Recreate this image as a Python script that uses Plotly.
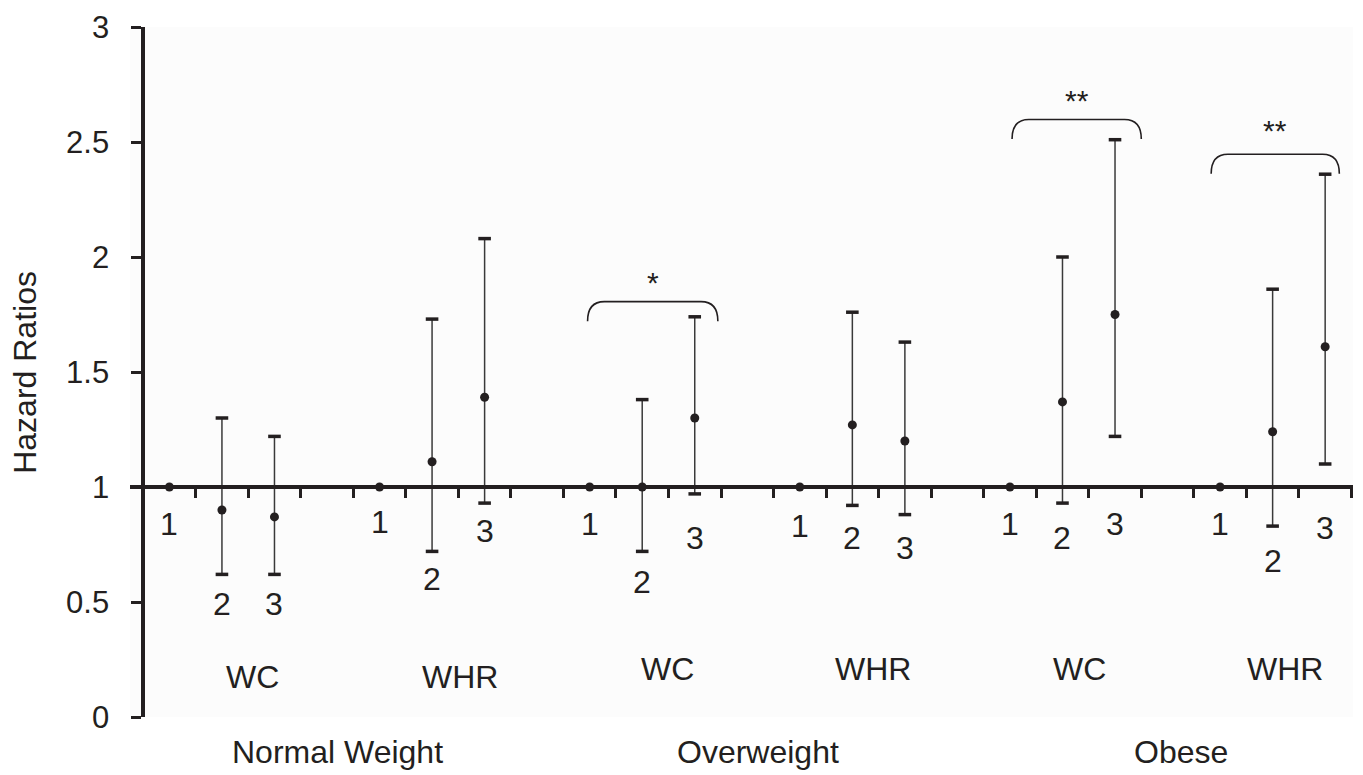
import plotly.graph_objects as go

# ---- data ----
bmi_groups = ["Normal Weight", "Overweight", "Obese"]
measures = ["WC", "WHR", "WC", "WHR", "WC", "WHR"]
tertiles = ["1", "2", "3"]
hr = [1.00, 0.90, 0.87, 1.00, 1.11, 1.39, 1.00, 1.00, 1.30,
      1.00, 1.27, 1.20, 1.00, 1.37, 1.75, 1.00, 1.24, 1.61]
ci_low = [None, 0.62, 0.62, None, 0.72, 0.93, None, 0.72, 0.97,
          None, 0.92, 0.88, None, 0.93, 1.22, None, 0.83, 1.10]
ci_high = [None, 1.30, 1.22, None, 1.73, 2.08, None, 1.38, 1.74,
           None, 1.76, 1.63, None, 2.00, 2.51, None, 1.86, 2.36]
signif = ["", "", "*", "", "**", "**"]

# ---- layout helpers (positions, not data) ----
tert_label_y = [0.84, 0.49, 0.49, 0.85, 0.60, 0.81, 0.84, 0.585, 0.78,
                0.83, 0.78, 0.735, 0.84, 0.78, 0.84, 0.84, 0.68, 0.82]
measure_label_x = [2.09, 6.04, 9.98, 13.89, 17.82, 21.74]
measure_label_y = [0.173, 0.173, 0.21, 0.21, 0.21, 0.21]
bmi_label_x = [3.70, 11.70, 19.76]
bracket_x0 = [None, None, 8.46, None, 16.54, 20.33]
bracket_x1 = [None, None, 10.94, None, 19.0, 22.77]
bracket_top = [None, None, 1.806, None, 2.598, 2.447]
bracket_drop = 0.085
star_y = [None, None, 1.89, None, 2.68, 2.55]

TXT = "#231f20"
FONT = "Liberation Sans, Arial, Helvetica, sans-serif"
FS = 32

xs = [g * 4 + t + 0.5 for g in range(len(measures)) for t in range(3)]

fig = go.Figure()

# error bars (stems)
ex, ey = [], []
for x, lo, hi in zip(xs, ci_low, ci_high):
    if lo is not None:
        ex += [x, x, None]
        ey += [lo, hi, None]
fig.add_trace(go.Scatter(x=ex, y=ey, mode="lines",
                         line=dict(color="#3a3a3a", width=1.5),
                         hoverinfo="skip", showlegend=False))
# caps
cx = [x for x, lo in zip(xs, ci_low) if lo is not None]
fig.add_trace(go.Scatter(
    x=cx + cx,
    y=[v for v in ci_low if v is not None] + [v for v in ci_high if v is not None],
    mode="markers",
    marker=dict(symbol="line-ew", size=9, line=dict(color="#231f20", width=3.5)),
    hoverinfo="skip", showlegend=False))
# points
fig.add_trace(go.Scatter(x=xs, y=hr, mode="markers",
                         marker=dict(color="#231f20", size=9),
                         hoverinfo="skip", showlegend=False))

annotations = []
for i, x in enumerate(xs):
    annotations.append(dict(x=x, y=tert_label_y[i], xref="x", yref="y",
                            text=tertiles[i % 3], showarrow=False,
                            font=dict(size=FS, color=TXT, family=FONT)))
for g, m in enumerate(measures):
    annotations.append(dict(x=measure_label_x[g], y=measure_label_y[g], xref="x", yref="y",
                            text=m, showarrow=False,
                            font=dict(size=FS, color=TXT, family=FONT)))
for b, name in enumerate(bmi_groups):
    annotations.append(dict(x=bmi_label_x[b], y=-0.151 / 3, xref="x", yref="paper",
                            xanchor="center", yanchor="middle",
                            text=name, showarrow=False,
                            font=dict(size=FS, color=TXT, family=FONT)))

shapes = []
for g in range(len(measures)):
    if signif[g]:
        x0, x1, yt = bracket_x0[g], bracket_x1[g], bracket_top[g]
        yb = yt - bracket_drop
        d = 0.32
        path = (f"M {x0},{yb} Q {x0},{yt} {x0 + d},{yt} L {x1 - d},{yt} "
                f"Q {x1},{yt} {x1},{yb}")
        shapes.append(dict(type="path", path=path, xref="x", yref="y",
                           line=dict(color="#231f20", width=1.6)))
        annotations.append(dict(x=(x0 + x1) / 2, y=star_y[g], xref="x", yref="y",
                                text=signif[g], showarrow=False,
                                font=dict(size=30, color=TXT, family=FONT)))

annotations.append(dict(x=-0.086, y=0.5, xref="paper", yref="paper",
                        xanchor="center", yanchor="middle",
                        text="Hazard Ratios", textangle=-90, showarrow=False,
                        font=dict(size=FS, color=TXT, family=FONT)))

xmin, xmax = -0.25, 23.03
# the page body has an 8px margin, so the figure is shrunk/offset to compensate
fig.update_layout(
    width=1355, height=767,
    margin=dict(l=122, r=10, t=19, b=58, autoexpand=False),
    paper_bgcolor="white", plot_bgcolor="#fcfcfc",
    showlegend=False,
    annotations=annotations, shapes=shapes,
    xaxis=dict(range=[xmin, xmax], anchor="free", position=1 / 3,
               showline=True, linecolor="#231f20", linewidth=4,
               ticks="outside", ticklen=9, tickwidth=3, tickcolor="#231f20",
               tickvals=list(range(1, 24)), showticklabels=False,
               showgrid=False, zeroline=False),
    yaxis=dict(range=[0, 3], anchor="free", position=(0 - xmin) / (xmax - xmin),
               showline=True, linecolor="#231f20", linewidth=3.5,
               ticks="outside", ticklen=10, tickwidth=3, tickcolor="#231f20",
               tickvals=[0, 0.5, 1, 1.5, 2, 2.5, 3],
               ticktext=["0", "0.5", "1", "1.5", "2", "2.5", "3"],
               tickfont=dict(size=31, color=TXT, family=FONT),
               ticklabelstandoff=16, ticklabeloverflow="allow",
               showgrid=False, zeroline=False),
)

fig.write_html("out.html")
